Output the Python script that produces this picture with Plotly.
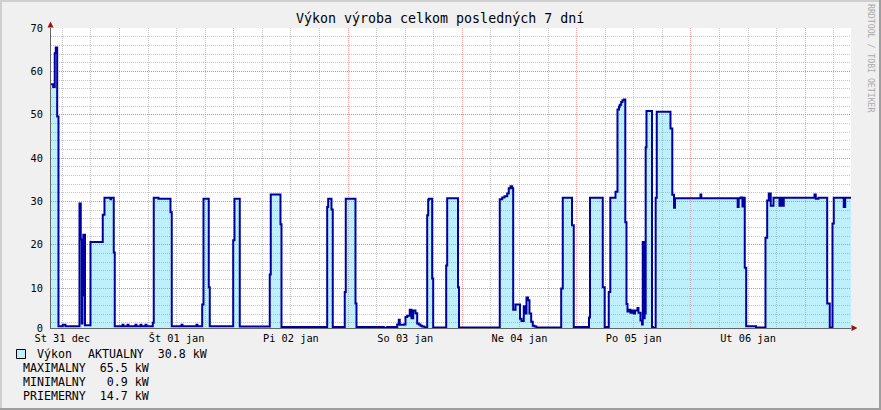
import plotly.graph_objects as go
from datetime import datetime, timedelta

# ---------------- data ----------------
BASE = datetime(2014, 12, 31, 0, 0)          # hours below are counted from this moment
RANGE_HOURS = [9.62, 177.62]                 # shown window (7 days)

hours = [
    9.62, 10.08, 10.41, 10.62, 10.92, 11.19, 12.09, 12.66, 15.60, 15.87,
    16.08, 16.23, 16.40, 16.76, 17.91, 20.49, 20.85, 22.11, 22.22, 22.80,
    23.01, 24.63, 24.84, 25.68, 25.89, 27.36, 27.57, 28.41, 28.62, 29.46,
    29.67, 30.99, 31.20, 32.19, 34.71, 34.98, 37.02, 37.23, 40.17, 40.38,
    41.37, 41.64, 42.75, 42.96, 47.88, 48.15, 49.26, 55.56, 55.77, 57.81,
    58.02, 67.62, 67.83, 68.52, 68.79, 71.31, 71.52, 73.56, 73.77, 79.50,
    80.22, 82.32, 82.65, 82.86, 83.70, 84.06, 84.42, 84.96, 85.32, 85.68,
    86.16, 86.52, 86.85, 87.21, 87.57, 88.05, 88.62, 88.83, 88.95, 89.67,
    89.88, 92.61, 92.82, 95.09, 95.30, 103.86, 104.37, 104.85, 105.42, 105.75,
    106.11, 106.47, 106.68, 107.16, 108.11, 108.42, 108.90, 109.11, 109.47, 109.79,
    110.10, 110.46, 110.79, 111.15, 111.57, 116.76, 117.09, 119.03, 119.40, 122.60,
    122.81, 125.49, 125.89, 126.75, 127.07, 128.16, 128.58, 128.90, 129.06, 129.36,
    129.63, 129.90, 130.22, 130.47, 130.68, 130.95, 131.31, 131.63, 132.00, 132.26,
    132.78, 132.99, 133.41, 133.73, 133.89, 134.00, 134.10, 134.21, 134.29, 134.38,
    134.50, 134.67, 135.83, 136.04, 136.60, 136.83, 139.71, 140.09, 140.45, 140.66,
    146.01, 146.18, 153.82, 154.03, 154.41, 154.83, 155.10, 155.31, 155.61, 157.67,
    159.66, 160.02, 160.35, 160.77, 161.34, 162.60, 162.81, 163.23, 163.50, 169.95,
    170.22, 170.79, 172.62, 173.16, 173.73, 174.00, 176.10, 176.40, 177.62,
]
power_kw = [
    57.0, 56.4, 64.2, 65.5, 49.6, 1.2, 1.5, 1.2, 29.5, 21.2,
    1.8, 8.3, 22.3, 1.4, 20.6, 26.9, 30.85, 30.5, 30.85, 18.2,
    1.2, 1.5, 1.2, 1.5, 1.2, 1.5, 1.2, 1.5, 1.2, 1.5,
    1.2, 2.0, 30.85, 30.6, 27.5, 1.2, 1.5, 1.2, 1.5, 1.2,
    6.2, 30.6, 10.2, 1.2, 21.0, 30.6, 1.1, 13.1, 31.6, 24.7,
    1.0, 28.7, 30.6, 28.1, 1.0, 9.1, 30.6, 6.4, 1.0, 0.8,
    1.0, 1.6, 2.7, 1.5, 1.6, 3.3, 3.6, 5.0, 3.0, 4.8,
    4.2, 1.8, 1.6, 1.3, 1.1, 0.9, 26.8, 30.3, 30.6, 12.2,
    0.9, 15.2, 30.7, 10.2, 0.9, 30.5, 30.9, 31.2, 31.8, 33.0,
    33.5, 33.0, 5.0, 6.2, 2.9, 2.4, 5.8, 4.1, 7.8, 7.2,
    4.1, 2.2, 1.3, 1.1, 0.9, 9.9, 30.85, 24.5, 1.0, 3.2,
    30.85, 10.2, 1.0, 9.1, 30.85, 32.2, 51.2, 51.8, 52.3, 52.9,
    53.3, 53.5, 25.2, 6.3, 4.6, 5.0, 4.3, 4.8, 4.1, 4.8,
    5.4, 4.3, 2.5, 1.6, 20.6, 3.0, 20.6, 3.0, 20.6, 4.1,
    42.5, 50.85, 1.0, 0.8, 30.85, 50.7, 46.8, 31.5, 28.5, 30.7,
    31.6, 30.7, 28.7, 30.7, 30.9, 28.8, 30.8, 14.7, 1.2, 0.9,
    21.6, 30.2, 31.8, 29.0, 30.85, 29.0, 30.85, 29.0, 30.85, 31.6,
    30.6, 30.85, 6.4, 0.9, 24.9, 30.85, 28.7, 30.85, 30.8,
]

label_hours = [12, 36, 60, 84, 108, 132, 156]   # noon of each day
label_text = ["St 31 dec", "Št 01 jan", "Pi 02 jan", "So 03 jan",
              "Ne 04 jan", "Po 05 jan", "Ut 06 jan"]
y_range = [0.77, 70]
y_tickvals = [0.77, 10, 20, 30, 40, 50, 60, 70]
y_ticktext = ["0", "10", "20", "30", "40", "50", "60", "70"]

title_text = "Výkon výroba celkom posledných 7 dní"
series_name = "Výkon"
legend_first = "AKTUALNY\u00a0\u00a030.8\u00a0kW"
legend_rows = ["MAXIMALNY\u00a0\u00a065.5\u00a0kW",
               "MINIMALNY\u00a0\u00a0\u00a00.9\u00a0kW",
               "PRIEMERNY\u00a0\u00a014.7\u00a0kW"]
watermark = "RRDTOOL / TOBI OETIKER"

# ---------------- style ----------------
FONT = "DejaVu Sans Mono"
BACK = "#F0F0F0"
SHADEA = "#CFCFCF"
SHADEB = "#9E9E9E"
AXIS = "#646464"
ARROW = "#A01010"
LINE = "#0000A0"
FILL = "rgba(40,205,245,0.30)"
FILL_LEGEND = "#C2F0FC"
GRID = "rgba(150,150,150,0.55)"
MGRID = "rgba(235,90,90,0.55)"
DOTS = "1px,1px"

W, H = 881, 410
PL, PT, PW, PH = 51, 28, 800, 300


def t(h):
    return BASE + timedelta(hours=h)


def fx(x):
    return (x - PL) / PW


def fy(y):
    return (PT + PH - y) / PH


times = [t(h) for h in hours]
xr = [t(RANGE_HOURS[0]), t(RANGE_HOURS[1])]

fig = go.Figure()
fig.add_trace(go.Scatter(
    x=times, y=power_kw, mode="lines", line=dict(shape="hv", color=LINE, width=2),
    fill="tozeroy", fillcolor=FILL, hoverinfo="skip", showlegend=False))
fig.add_trace(go.Scatter(x=[], y=[], xaxis="x2", showlegend=False, hoverinfo="skip"))

shapes = []
# frame
for (x0, x1, y0, y1, c) in [(0, W, 0, 2, SHADEA), (0, 2, 0, H, SHADEA),
                            (W - 2, W, 0, H, SHADEB), (0, W, H - 2, H, SHADEB)]:
    shapes.append(dict(type="rect", xref="paper", yref="paper", x0=fx(x0), x1=fx(x1),
                       y0=fy(y0), y1=fy(y1), fillcolor=c, line=dict(width=0), layer="above"))
# arrows
shapes.append(dict(type="path", xref="paper", yref="paper", layer="above",
                   path=f"M {fx(47.5)} {fy(27.5)} L {fx(53.5)} {fy(27.5)} L {fx(50.5)} {fy(21.5)} Z",
                   fillcolor=ARROW, line=dict(width=0)))
shapes.append(dict(type="path", xref="paper", yref="paper", layer="above",
                   path=f"M {fx(851.5)} {fy(325)} L {fx(851.5)} {fy(331)} L {fx(857.5)} {fy(328)} Z",
                   fillcolor=ARROW, line=dict(width=0)))
# legend swatch
shapes.append(dict(type="rect", xref="paper", yref="paper", x0=fx(16.5), x1=fx(25.5),
                   y0=fy(349.5), y1=fy(358.5), fillcolor=FILL_LEGEND,
                   line=dict(color="#000000", width=1)))

annotations = [
    dict(text=title_text, x=fx(440), y=fy(18.5), xref="paper", yref="paper",
         xanchor="center", yanchor="middle", showarrow=False,
         font=dict(family=FONT, size=13.3, color="#000000")),
    dict(text=watermark, x=fx(871.5), y=fy(58.5), xref="paper", yref="paper",
         xanchor="center", yanchor="middle", showarrow=False, textangle=90,
         font=dict(family=FONT, size=8.2, color="#AAAAAA")),
    dict(text=series_name, x=fx(36), y=fy(354), xref="paper", yref="paper",
         xanchor="left", yanchor="middle", showarrow=False, borderpad=0,
         font=dict(family=FONT, size=11.6, color="#000000")),
    dict(text=legend_first, x=fx(87), y=fy(354), xref="paper", yref="paper",
         xanchor="left", yanchor="middle", showarrow=False, borderpad=0,
         font=dict(family=FONT, size=11.6, color="#000000")),
]
for i, row in enumerate(legend_rows):
    annotations.append(dict(text=row, x=fx(22), y=fy(368 + 14 * i), xref="paper", yref="paper",
                            xanchor="left", yanchor="middle", showarrow=False, borderpad=0,
                            font=dict(family=FONT, size=11.6, color="#000000")))

fig.update_layout(
    width=W, height=H, autosize=False,
    margin=dict(l=PL, r=W - PL - PW, t=PT, b=H - PT - PH, pad=0),
    paper_bgcolor=BACK, plot_bgcolor="#FFFFFF",
    font=dict(family=FONT, size=10.3, color="#000000"),
    showlegend=False, hovermode=False,
    shapes=shapes, annotations=annotations,
    xaxis=dict(type="date", range=xr, tickmode="linear", tick0=BASE, dtick=86400000,
               showticklabels=False, ticks="", showgrid=True, gridcolor=MGRID,
               griddash=DOTS, gridwidth=1, zeroline=False,
               showline=True, linecolor=AXIS, linewidth=1,
               minor=dict(tickmode="linear", tick0=BASE, dtick=6 * 3600000, showgrid=True,
                          gridcolor=GRID, griddash=DOTS, gridwidth=1, ticks="")),
    xaxis2=dict(type="date", range=xr, overlaying="x", anchor="y", side="bottom",
                tickmode="array", tickvals=[t(h) for h in label_hours], ticktext=label_text,
                showgrid=False, showline=False, ticks="", zeroline=False,
                ticklabelstandoff=3, tickfont=dict(family=FONT, size=10.3, color="#000000")),
    yaxis=dict(range=y_range, tickmode="array", tickvals=y_tickvals, ticktext=y_ticktext,
               ticks="", showgrid=True, gridcolor=MGRID, griddash=DOTS, gridwidth=1,
               zeroline=False, showline=True, linecolor=AXIS, linewidth=1,
               ticklabelstandoff=5, tickfont=dict(family=FONT, size=10.3, color="#000000"),
               minor=dict(tickmode="linear", tick0=0, dtick=2, showgrid=True,
                          gridcolor=GRID, griddash=DOTS, gridwidth=1, ticks="")),
)

fig.write_html(
    "out.html",
    config={"displayModeBar": False, "staticPlot": True},
    post_script="document.body.style.margin='0';document.body.style.overflow='hidden';",
)
